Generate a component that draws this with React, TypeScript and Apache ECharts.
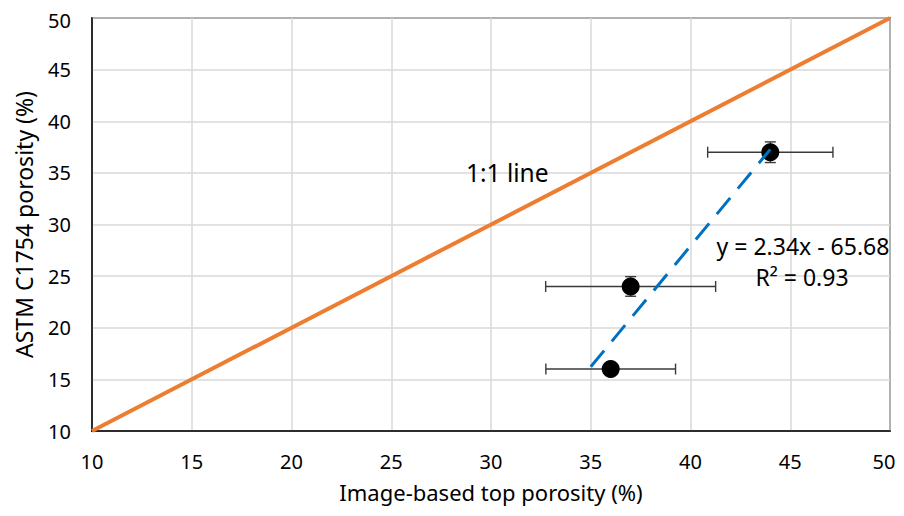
import React, { useEffect, useRef } from "react";
import * as echarts from "echarts";

const xVals = [44, 37, 36];
const yVals = [37, 24, 16];
const xErr = [3.14, 4.26, 3.25];
const yErr = [1.0, 0.95, 0.0];
const oneToOne = [[10, 10], [50, 50]];
const trendSlope = 2.34;
const trendIntercept = -65.68;
const trendRange = [35, 44];
const xTicks = { min: 10, max: 50, interval: 5 };
const yTicks = { min: 10, max: 50, interval: 5 };
const eqText = "y = 2.34x - 65.68";
const r2Text = "R² = 0.93";
const lineLabel = "1:1 line";

const FONT = "'Noto Sans', sans-serif";

export default function App() {
  const ref = useRef<HTMLDivElement>(null);
  useEffect(() => {
    if (!ref.current) return;
    const chart = echarts.init(ref.current, null, { renderer: "svg" });
    const trendData = trendRange.map((x) => [x, trendSlope * x + trendIntercept]);
    const errData = xVals.map((x, i) => [x, yVals[i], xErr[i], yErr[i]]);
    chart.setOption({
      animation: false,
      backgroundColor: "#ffffff",
      grid: {
        left: 84,
        right: 6,
        top: 10,
        bottom: 77,
        outerBoundsMode: "none",
        containLabel: false,
        show: true,
        borderColor: "#000000",
        borderWidth: 1.5,
      },
      xAxis: {
        type: "value",
        min: xTicks.min,
        max: xTicks.max,
        interval: xTicks.interval,
        name: "Image-based top porosity (%)",
        nameLocation: "middle",
        nameGap: 49,
        nameTextStyle: { fontFamily: FONT, fontSize: 22, lineHeight: 24, color: "#000" },
        axisLine: { show: true, lineStyle: { color: "#000", width: 1.5 } },
        axisTick: { show: false },
        axisLabel: {
          fontFamily: FONT,
          fontSize: 20,
          lineHeight: 18,
          color: "#000",
          margin: 21,
          formatter: (v: number) => (v === xTicks.max ? "{last|" + v + "}" : String(v)),
          rich: {
            last: { fontFamily: FONT, fontSize: 20, lineHeight: 18, color: "#000", padding: [0, 12, 0, 0] },
          },
        },
        splitLine: { show: true, lineStyle: { color: "#d9d9d9", width: 1.5 } },
      },
      yAxis: {
        type: "value",
        min: yTicks.min,
        max: yTicks.max,
        interval: yTicks.interval,
        name: "ASTM C1754 porosity (%)",
        nameLocation: "middle",
        nameGap: 57,
        nameTextStyle: { fontFamily: FONT, fontSize: 23, color: "#000" },
        axisLine: { show: true, lineStyle: { color: "#000", width: 1.5 } },
        axisTick: { show: false },
        axisLabel: {
          fontFamily: FONT,
          fontSize: 20,
          lineHeight: 16,
          color: "#000",
          margin: 21,
          formatter: (v: number) => (v === yTicks.max ? "{top|" + v + "}" : String(v)),
          rich: {
            top: { fontFamily: FONT, fontSize: 20, lineHeight: 16, color: "#000", padding: [4, 0, 0, 0] },
          },
        },
        splitLine: { show: true, lineStyle: { color: "#d9d9d9", width: 1.5 } },
      },
      series: [
        {
          type: "line",
          data: oneToOne,
          symbol: "none",
          lineStyle: { color: "#ED7D31", width: 4 },
          z: 3,
        },
        {
          type: "custom",
          data: errData,
          z: 4,
          renderItem: (params: any, api: any) => {
            const x = api.value(0);
            const y = api.value(1);
            const dx = api.value(2);
            const dy = api.value(3);
            const left = api.coord([x - dx, y]);
            const right = api.coord([x + dx, y]);
            const top = api.coord([x, y + dy]);
            const bot = api.coord([x, y - dy]);
            const cap = 5.5;
            const style = { stroke: "#3a3a3a", lineWidth: 1.4 };
            const children: any[] = [
              { type: "line", shape: { x1: left[0], y1: left[1], x2: right[0], y2: right[1] }, style },
              { type: "line", shape: { x1: left[0], y1: left[1] - cap, x2: left[0], y2: left[1] + cap }, style },
              { type: "line", shape: { x1: right[0], y1: right[1] - cap, x2: right[0], y2: right[1] + cap }, style },
            ];
            if (dy > 0) {
              children.push(
                { type: "line", shape: { x1: top[0], y1: top[1], x2: bot[0], y2: bot[1] }, style },
                { type: "line", shape: { x1: top[0] - cap, y1: top[1], x2: top[0] + cap, y2: top[1] }, style },
                { type: "line", shape: { x1: bot[0] - cap, y1: bot[1], x2: bot[0] + cap, y2: bot[1] }, style }
              );
            }
            return { type: "group", children };
          },
        },
        {
          type: "scatter",
          data: xVals.map((x, i) => [x, yVals[i]]),
          symbol: "circle",
          symbolSize: 18,
          itemStyle: { color: "#000000", opacity: 1 },
          emphasis: { disabled: true },
          z: 5,
        },
        {
          type: "line",
          data: trendData,
          symbol: "none",
          lineStyle: { color: "#0070C0", width: 3, type: [21, 12] },
          z: 6,
        },
      ],
      graphic: [
        {
          type: "text",
          x: 458,
          y: 164,
          style: { text: lineLabel, fontFamily: FONT, fontSize: 24.5, fill: "#000", align: "left", verticalAlign: "middle" },
          z: 10,
        },
        {
          type: "text",
          x: 795,
          y: 238,
          style: { text: eqText, fontFamily: FONT, fontSize: 23, fill: "#000", align: "center", verticalAlign: "middle" },
          z: 10,
        },
        {
          type: "text",
          x: 794,
          y: 269,
          style: { text: r2Text, fontFamily: FONT, fontSize: 23, fill: "#000", align: "center", verticalAlign: "middle" },
          z: 10,
        },
      ],
    });
    return () => chart.dispose();
  }, []);
  return <div ref={ref} style={{ width: 888, height: 500 }} />;
}
